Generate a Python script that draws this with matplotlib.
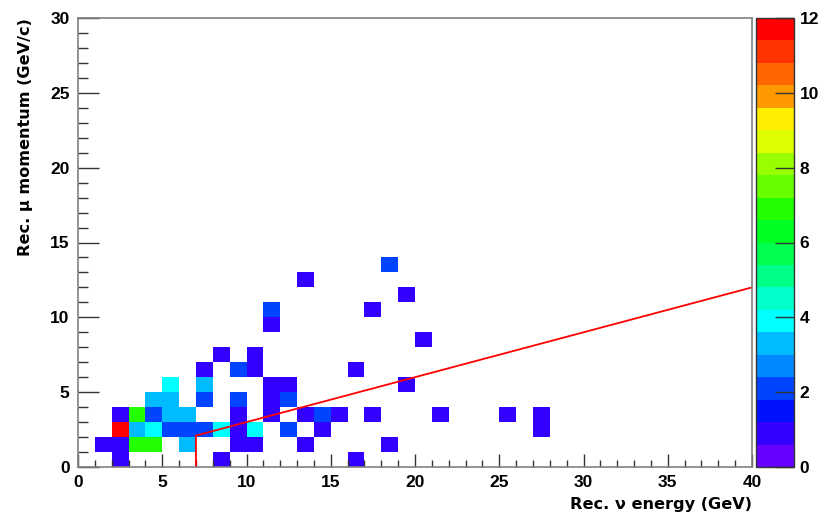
import numpy as np
import matplotlib
matplotlib.use("Agg")
import matplotlib.pyplot as plt
from matplotlib.colors import ListedColormap, BoundaryNorm
from matplotlib.ticker import MultipleLocator

plt.rcParams['font.family'] = ['Liberation Sans', 'DejaVu Sans']

# Filled cells of the 2D histogram: lower bin edge in energy (GeV),
# lower bin edge in momentum (GeV/c) and the number of entries.
cell_energy = [2, 8, 16,
               1, 2, 3, 4, 6, 9, 10, 13, 18,
               2, 3, 4, 5, 6, 7, 8, 9, 10, 12, 14, 27,
               2, 3, 4, 5, 6, 9, 11, 13, 14, 15, 17, 21, 25, 27,
               4, 5, 7, 9, 11, 12,
               5, 7, 11, 12, 19,
               7, 9, 10, 16,
               8, 10,
               20,
               11,
               11, 17,
               19,
               13,
               18]
cell_momentum = [0, 0, 0,
                 1, 1, 1, 1, 1, 1, 1, 1, 1,
                 2, 2, 2, 2, 2, 2, 2, 2, 2, 2, 2, 2,
                 3, 3, 3, 3, 3, 3, 3, 3, 3, 3, 3, 3, 3, 3,
                 4, 4, 4, 4, 4, 4,
                 5, 5, 5, 5, 5,
                 6, 6, 6, 6,
                 7, 7,
                 8,
                 9,
                 10, 10,
                 11,
                 12,
                 13]
cell_count = [1, 1, 1,
              1, 1, 7, 7, 3, 1, 1, 1, 1,
              12, 3, 4, 2, 2, 2, 4, 1, 4, 2, 1, 1,
              1, 7, 2, 3, 3, 1, 1, 1, 2, 1, 1, 1, 1, 1,
              3, 3, 2, 2, 1, 2,
              4, 3, 1, 1, 1,
              1, 2, 1, 1,
              1, 1,
              1,
              1,
              2, 1,
              1,
              1,
              2]

# Selection cut drawn over the histogram
cut_energy = [7, 7, 40]
cut_momentum = [0, 2.1, 12]

colorbar_ticks = [0, 2, 4, 6, 8, 10, 12]

energy_edges = np.arange(0, 41, 1)
momentum_edges = np.arange(0, 31, 1)

# 20-level rainbow palette, low to high
palette = ['#6600ff', '#3300ff', '#0011ff', '#0044ff', '#0088ff',
           '#00bbff', '#00ffff', '#00ffcc', '#00ff88', '#00ff50',
           '#00ff22', '#22ff00', '#66ff00', '#99ff00', '#ddff00',
           '#ffee00', '#ff9900', '#ff6600', '#ff3300', '#ff0000']
z_max = 12
n_levels = len(palette)

H, xe, ye = np.histogram2d(np.array(cell_energy) + 0.5,
                           np.array(cell_momentum) + 0.5,
                           bins=[energy_edges, momentum_edges],
                           weights=cell_count)
Hm = np.ma.masked_where(H.T <= 0, H.T)

W, Hpx = 827, 517
fig = plt.figure(figsize=(W / 100, Hpx / 100), dpi=100)
ax = fig.add_axes([78 / W, 50 / Hpx, 674 / W, 449 / Hpx])
cax = fig.add_axes([756 / W, 50 / Hpx, 38 / W, 449 / Hpx])

levels = np.arange(n_levels + 1) * z_max / n_levels
cmap = ListedColormap(palette)
norm = BoundaryNorm(levels, cmap.N)
mesh = ax.pcolormesh(xe, ye, Hm, cmap=cmap, norm=norm)

ax.plot(cut_energy, cut_momentum, color='red', lw=1.3)

ax.set_xlim(0, 40)
ax.set_ylim(0, 30)
ax.xaxis.set_major_locator(MultipleLocator(5))
ax.xaxis.set_minor_locator(MultipleLocator(1))
ax.yaxis.set_major_locator(MultipleLocator(5))
ax.yaxis.set_minor_locator(MultipleLocator(1))

tick_color = '#333333'
ax.tick_params(axis='x', which='major', direction='in', length=9.5, width=1,
               color=tick_color, pad=6, labelsize=12.5)
ax.tick_params(axis='x', which='minor', direction='in', length=5, width=1,
               color=tick_color)
ax.tick_params(axis='y', which='major', direction='in', length=15, width=1,
               color=tick_color, pad=6, labelsize=12.5)
ax.tick_params(axis='y', which='minor', direction='in', length=7.5, width=1,
               color=tick_color)
for lab in ax.get_xticklabels() + ax.get_yticklabels():
    lab.set_fontweight('bold')

for s in ax.spines.values():
    s.set_color('#808080')
    s.set_linewidth(1.2)

title_font = dict(family=['DejaVu Sans'], size=11.6, weight='bold')
ax.set_xlabel('Rec. \u03bd energy (GeV)', loc='right', labelpad=5,
              fontdict=title_font)
ax.set_ylabel('Rec. \u03bc momentum (GeV/c)', loc='top', labelpad=12,
              fontdict=title_font)

cb = fig.colorbar(mesh, cax=cax, ticks=colorbar_ticks)
cb.outline.set_edgecolor('#333333')
cb.outline.set_linewidth(1)
cax.tick_params(axis='y', which='major', direction='in', length=14, width=1,
                color=tick_color, pad=4, labelsize=12.5, right=True, left=False)
cax.minorticks_off()
for lab in cax.get_yticklabels():
    lab.set_fontweight('bold')

fig.savefig('out.png', dpi=100)
